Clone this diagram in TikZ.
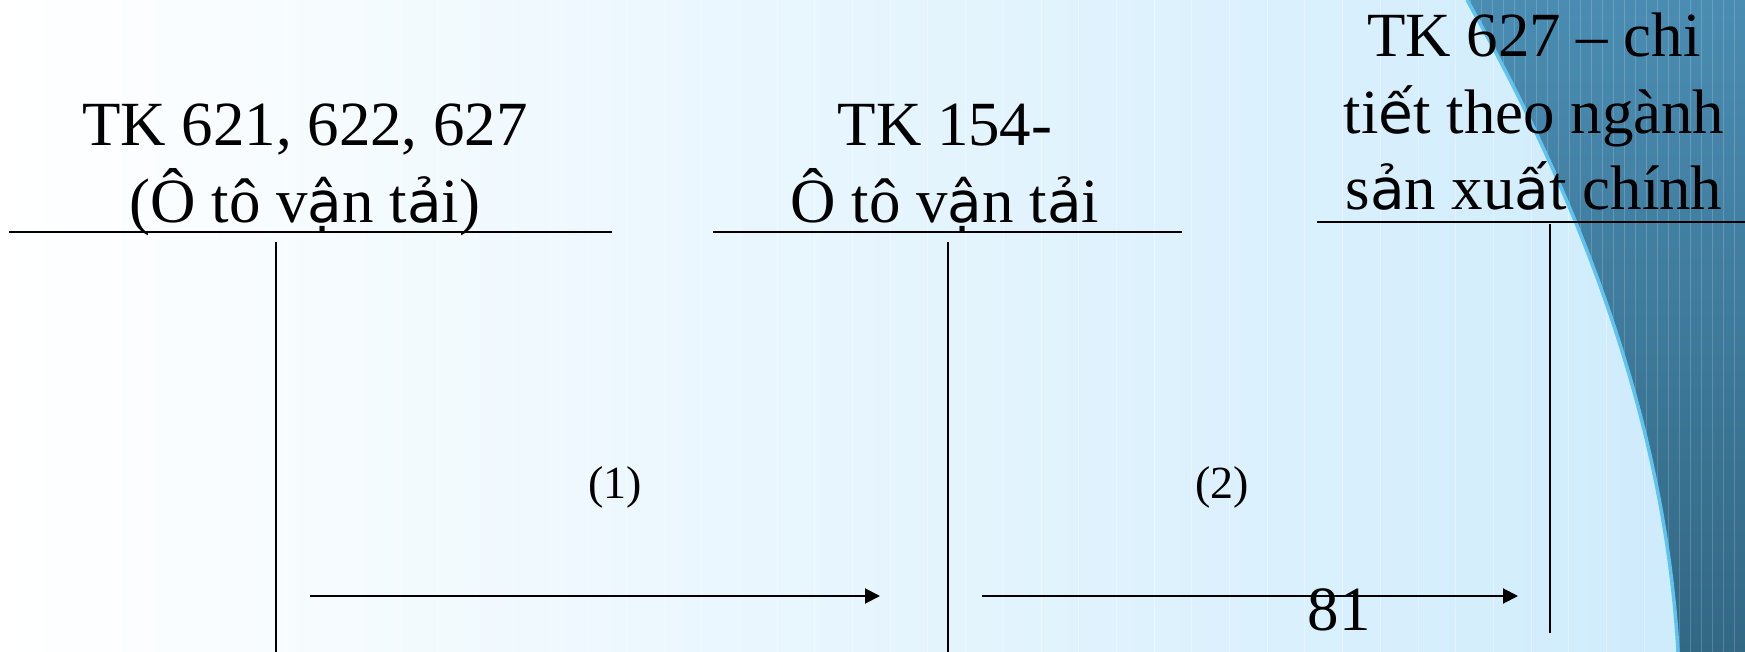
\documentclass[tikz,border=0pt]{standalone}
\usepackage{fontspec}
\setmainfont{Liberation Serif}
\newfontfamily\fbk{DejaVu Sans}[Scale=0.9]
\usetikzlibrary{arrows.meta}
\definecolor{bgleft}{RGB}{255,255,255}
\definecolor{bgright}{RGB}{205,235,252}
\definecolor{darktop}{RGB}{74,140,178}
\definecolor{darkbot}{RGB}{50,104,132}
\definecolor{edgeblue}{RGB}{95,195,240}
\begin{document}
\begin{tikzpicture}[x=0.02cm,y=-0.02cm,
  ttl/.style={font=\fontsize{35.8}{43.8}\selectfont, inner sep=0pt, align=center, anchor=base},
  lbl/.style={font=\fontsize{26.2}{30}\selectfont, inner sep=0pt, anchor=base},
  rule/.style={line width=0.04cm, black},
  flow/.style={line width=0.04cm, black, -{Triangle[length=0.3cm,width=0.3cm]}}]
\useasboundingbox (0,0) rectangle (1745,652);
% background
\fill[left color=bgleft, right color=bgright] (0,0) rectangle (1745,652);
\foreach \i in {0,...,46}
  \draw[white, opacity=0.35, line width=0.02cm] ({23.1+\i*37.7},0) -- ++(0,652);
% dark decoration
\fill[top color=darktop, bottom color=darkbot] (1467,0) .. controls (1580,200) and (1665,420) .. (1678,652) -- (1745,652) -- (1745,0) -- cycle;
\begin{scope}
  \clip (1467,0) .. controls (1580,200) and (1665,420) .. (1678,652) -- (1745,652) -- (1745,0) -- cycle;
  \foreach \x in {1470,1481,...,1745}
    \draw[white, opacity=0.18, line width=0.02cm] (\x,0) -- (\x,652);
\end{scope}
\draw[edgeblue, line width=0.07cm] (1467,0) .. controls (1580,200) and (1665,420) .. (1678,652);
% titles (base anchor = baseline of the last line)
\node[ttl] (t1) at (305,222) {TK 621, 622, 627\\(Ô tô v{\fbk ậ}n t{\fbk ả}i)};
\node[ttl] (t2) at (945,222) {TK 154-\\Ô tô v{\fbk ậ}n t{\fbk ả}i};
\node[ttl] (t3) at (1534,210) {TK 627 – chi\\ti{\fbk ế}t theo ngành\\s{\fbk ả}n xu{\fbk ấ}t chính};
% T-account rules
\coordinate (h1a) at (9,232);   \coordinate (h1b) at (612,232);
\coordinate (v1a) at (276,242); \coordinate (v1b) at (276,652);
\coordinate (h2a) at (713,232); \coordinate (h2b) at (1182,232);
\coordinate (v2a) at (948,242); \coordinate (v2b) at (948,652);
\coordinate (h3a) at (1317,222); \coordinate (h3b) at (1745,222);
\coordinate (v3a) at (1550,224); \coordinate (v3b) at (1550,633);
\draw[rule] (h1a) -- (h1b);
\draw[rule] (v1a) -- (v1b);
\draw[rule] (h2a) -- (h2b);
\draw[rule] (v2a) -- (v2b);
\draw[rule] (h3a) -- (h3b);
\draw[rule] (v3a) -- (v3b);
% flows
\coordinate (a1s) at (310,596); \coordinate (a1e) at (880,596);
\coordinate (a2s) at (982,596); \coordinate (a2e) at (1518,596);
\draw[flow] (a1s) -- (a1e);
\draw[flow] (a2s) -- (a2e);
\node[lbl] (l1) at (615,498) {(1)};
\node[lbl] (l2) at (1222,498) {(2)};
\node[ttl] (pg) at (1339,630) {81};
\end{tikzpicture}
\end{document}
